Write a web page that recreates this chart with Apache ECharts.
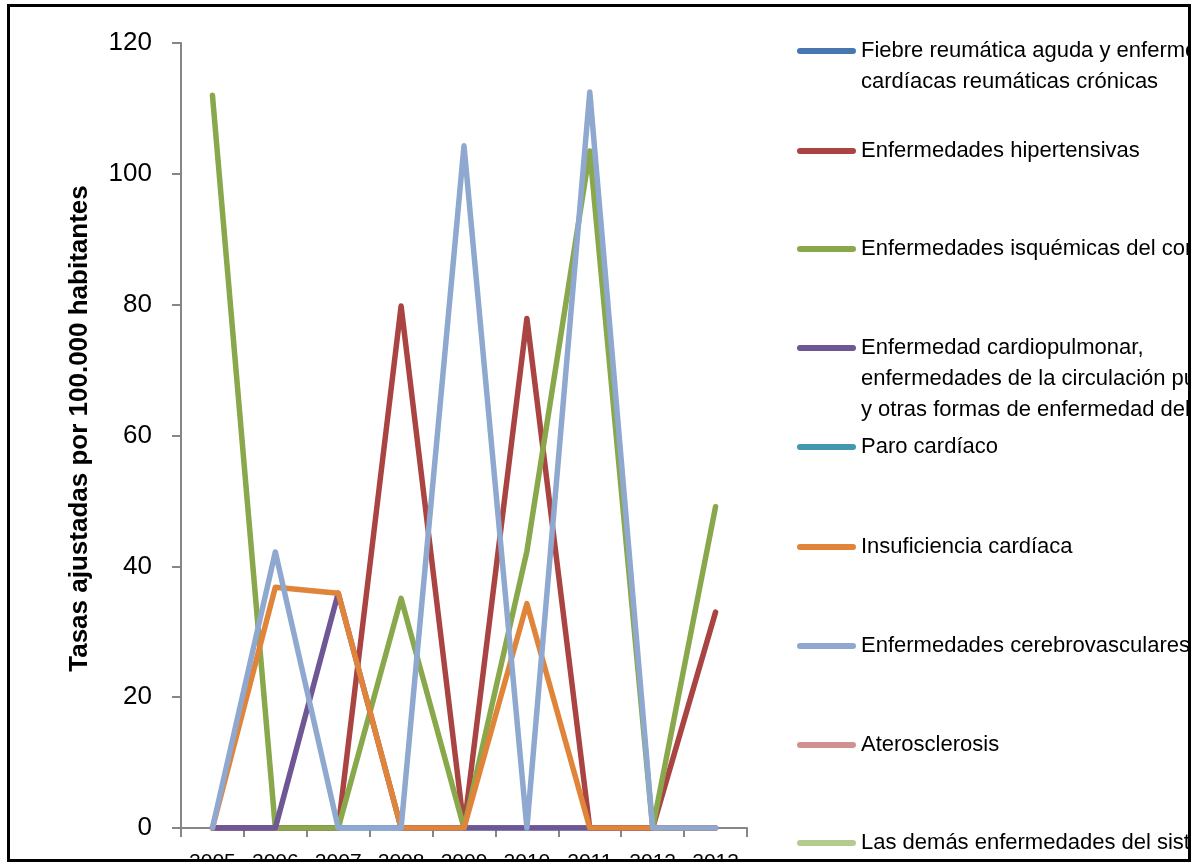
<!DOCTYPE html>
<html lang="es">
<head>
<meta charset="utf-8">
<title>Tasas ajustadas por 100.000 habitantes</title>
<script src="https://cdn.jsdelivr.net/npm/echarts@6/dist/echarts.min.js"></script>
<style>
  html, body { margin: 0; padding: 0; background: #fff; }
  body { width: 1197px; height: 865px; position: relative; overflow: hidden; }
  #frame {
    position: absolute; left: 7px; top: 4px; width: 1184px; height: 858px;
    box-sizing: border-box; border: 3px solid #000; overflow: hidden; background: #fff;
  }
  #chart { position: absolute; left: -10px; top: -7px; width: 1197px; height: 900px; }
</style>
</head>
<body>
<div id="frame"><div id="chart"></div></div>
<script>
// Years on the category axis
const years = ['2005', '2006', '2007', '2008', '2009', '2010', '2011', '2012', '2013'];

// Y axis range and step
const yMin = 0;
const yMax = 120;
const yStep = 20;
const yTitle = 'Tasas ajustadas por 100.000 habitantes';

// Series names (with the line breaks used in the legend)
const seriesNames = [
  'Fiebre reumática aguda y enfermedades\ncardíacas reumáticas crónicas',
  'Enfermedades hipertensivas',
  'Enfermedades isquémicas del corazón',
  'Enfermedad cardiopulmonar,\nenfermedades de la circulación pulmonar\ny otras formas de enfermedad del corazón',
  'Paro cardíaco',
  'Insuficiencia cardíaca',
  'Enfermedades cerebrovasculares',
  'Aterosclerosis',
  'Las demás enfermedades del sistema circulatorio'
];

// Rates per series, one value per year (null = no record)
const fiebreReumatica   = [0, 0, 0, 0, 0, 0, 0, 0, 0];
const hipertensivas     = [0, 0, 0, 79.8, 0, 77.9, 0, 0, 33.0];
const isquemicas        = [112.0, 0, 0, 35.1, 0, 42.3, 103.5, 0, 49.1];
const cardiopulmonar    = [0, 0, 35.9, 0, 0, 0, 0, 0, 0];
const paroCardiaco      = [null, null, null, null, null, null, null, null, null];
const insuficiencia     = [0, 36.8, 35.9, 0, 0, 34.3, 0, 0, 0];
const cerebrovasculares = [0, 42.2, 0, 0, 104.3, 0, 112.5, 0, 0];
const aterosclerosis    = [null, null, null, null, null, null, null, null, null];
const lasDemas          = [null, null, null, null, null, null, null, null, null];

const seriesValues = [
  fiebreReumatica, hipertensivas, isquemicas, cardiopulmonar, paroCardiaco,
  insuficiencia, cerebrovasculares, aterosclerosis, lasDemas
];

const colors = ['#4777b0', '#aa4442', '#89a84b', '#6f5695', '#4198af',
                '#e0843a', '#8ea8cf', '#d09290', '#b4cb8e'];

// Vertical centre of each legend marker (first text line sits beside it)
const legendMarkerY = [51, 151, 249, 348, 447, 547, 646, 745, 843];

const LINE_H = 31;       // legend text line height
const KEY_W = 59;        // legend key length
const KEY_T = 6;         // legend key thickness

// Legend key: a rounded bar beside the first text line; the two
// zero-area sub-paths only stretch the icon box over the whole text block
function keyPath(lines) {
  const h = lines * LINE_H;
  const y0 = LINE_H / 2 - KEY_T / 2;
  const y1 = y0 + KEY_T;
  const r = KEY_T / 2;
  return 'path://M' + r + ',' + y0 + ' L' + (KEY_W - r) + ',' + y0 +
    ' A' + r + ',' + r + ' 0 0 1 ' + (KEY_W - r) + ',' + y1 +
    ' L' + r + ',' + y1 + ' A' + r + ',' + r + ' 0 0 1 ' + r + ',' + y0 + ' Z' +
    ' M0,0 L0,0 Z M' + KEY_W + ',' + h + ' L' + KEY_W + ',' + h + ' Z';
}

const legends = seriesNames.map(function (name, i) {
  const lines = name.split('\n').length;
  return {
    show: true,
    orient: 'vertical',
    left: 797,
    top: legendMarkerY[i] - LINE_H / 2,
    padding: 0,
    data: [name],
    icon: keyPath(lines),
    itemWidth: KEY_W,
    itemHeight: lines * LINE_H,
    itemStyle: { borderWidth: 0 },
    selectedMode: false,
    textStyle: {
      fontFamily: 'Liberation Sans',
      fontSize: 22,
      lineHeight: LINE_H,
      color: '#000'
    }
  };
});

const chart = echarts.init(document.getElementById('chart'), null, { renderer: 'canvas' });

chart.setOption({
  animation: false,
  color: colors,
  grid: { left: 181, top: 43, width: 566, height: 785, containLabel: false },
  legend: legends,
  xAxis: {
    type: 'category',
    data: years,
    boundaryGap: true,
    axisLine: { show: true, lineStyle: { color: '#868686', width: 2 } },
    axisTick: { show: true, length: 9, inside: false, lineStyle: { color: '#868686', width: 2 } },
    axisLabel: { margin: 24, fontFamily: 'Liberation Sans', fontSize: 21, color: '#000', interval: 0 },
    splitLine: { show: false }
  },
  yAxis: {
    type: 'value',
    min: yMin,
    max: yMax,
    interval: yStep,
    name: yTitle,
    nameLocation: 'middle',
    nameGap: 88,
    nameRotate: 90,
    nameTextStyle: {
      fontFamily: 'Liberation Sans', fontSize: 26, fontWeight: 'bold', color: '#000',
      padding: [0, 0, 0, 14]
    },
    axisLine: { show: true, lineStyle: { color: '#868686', width: 2 } },
    axisTick: { show: true, length: 9, inside: false, lineStyle: { color: '#868686', width: 2 } },
    axisLabel: { margin: 29, fontFamily: 'Liberation Sans', fontSize: 26, color: '#000' },
    splitLine: { show: false }
  },
  series: seriesNames.map(function (name, i) {
    return {
      name: name,
      type: 'line',
      data: seriesValues[i],
      showSymbol: false,
      symbol: 'none',
      connectNulls: false,
      lineStyle: { width: 5.5, color: colors[i], cap: 'round', join: 'round' },
      itemStyle: { color: colors[i] },
      emphasis: { disabled: true }
    };
  })
});
</script>
</body>
</html>
